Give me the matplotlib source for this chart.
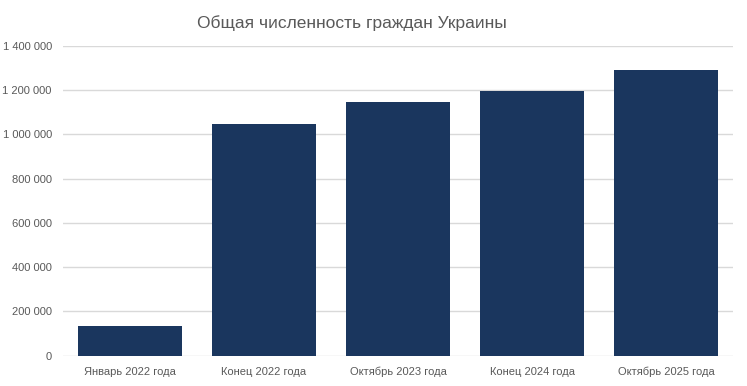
import numpy as np
import matplotlib.pyplot as plt
from matplotlib.ticker import FuncFormatter, MultipleLocator

# data
categories = ['Январь 2022 года', 'Конец 2022 года', 'Октябрь 2023 года',
              'Конец 2024 года', 'Октябрь 2025 года']
values = [133000, 1048000, 1147000, 1197000, 1292000]
title = 'Общая численность граждан Украины'

plt.rcParams['font.family'] = ['Liberation Sans', 'DejaVu Sans']

fig = plt.figure(figsize=(7.47, 3.86), dpi=100)
ax = fig.add_axes([0.0843, 0.079, 0.8970, 0.802])

x = np.arange(len(categories))
ax.bar(x, values, width=0.77, color='#1a365e', zorder=3)

# axes and grid
ax.set_xlim(-0.5, len(categories) - 0.5)
ax.set_ylim(0, 1400000)
ax.yaxis.set_major_locator(MultipleLocator(200000))
ax.yaxis.set_major_formatter(FuncFormatter(lambda v, p: f'{int(v):,}'.replace(',', ' ')))
ax.grid(axis='y', color='#d9d9d9', lw=1, zorder=0)
for s in ax.spines.values():
    s.set_visible(False)
ax.tick_params(length=0, labelsize=8, colors='#595959')
ax.tick_params(axis='y', pad=8)
ax.tick_params(axis='x', pad=8)
ax.set_xticks(x)
ax.set_xticklabels(categories)

fig.text(0.471, 0.94, title, ha='center', va='center', fontsize=12.5, color='#595959')

fig.savefig('out.png', dpi=100)
